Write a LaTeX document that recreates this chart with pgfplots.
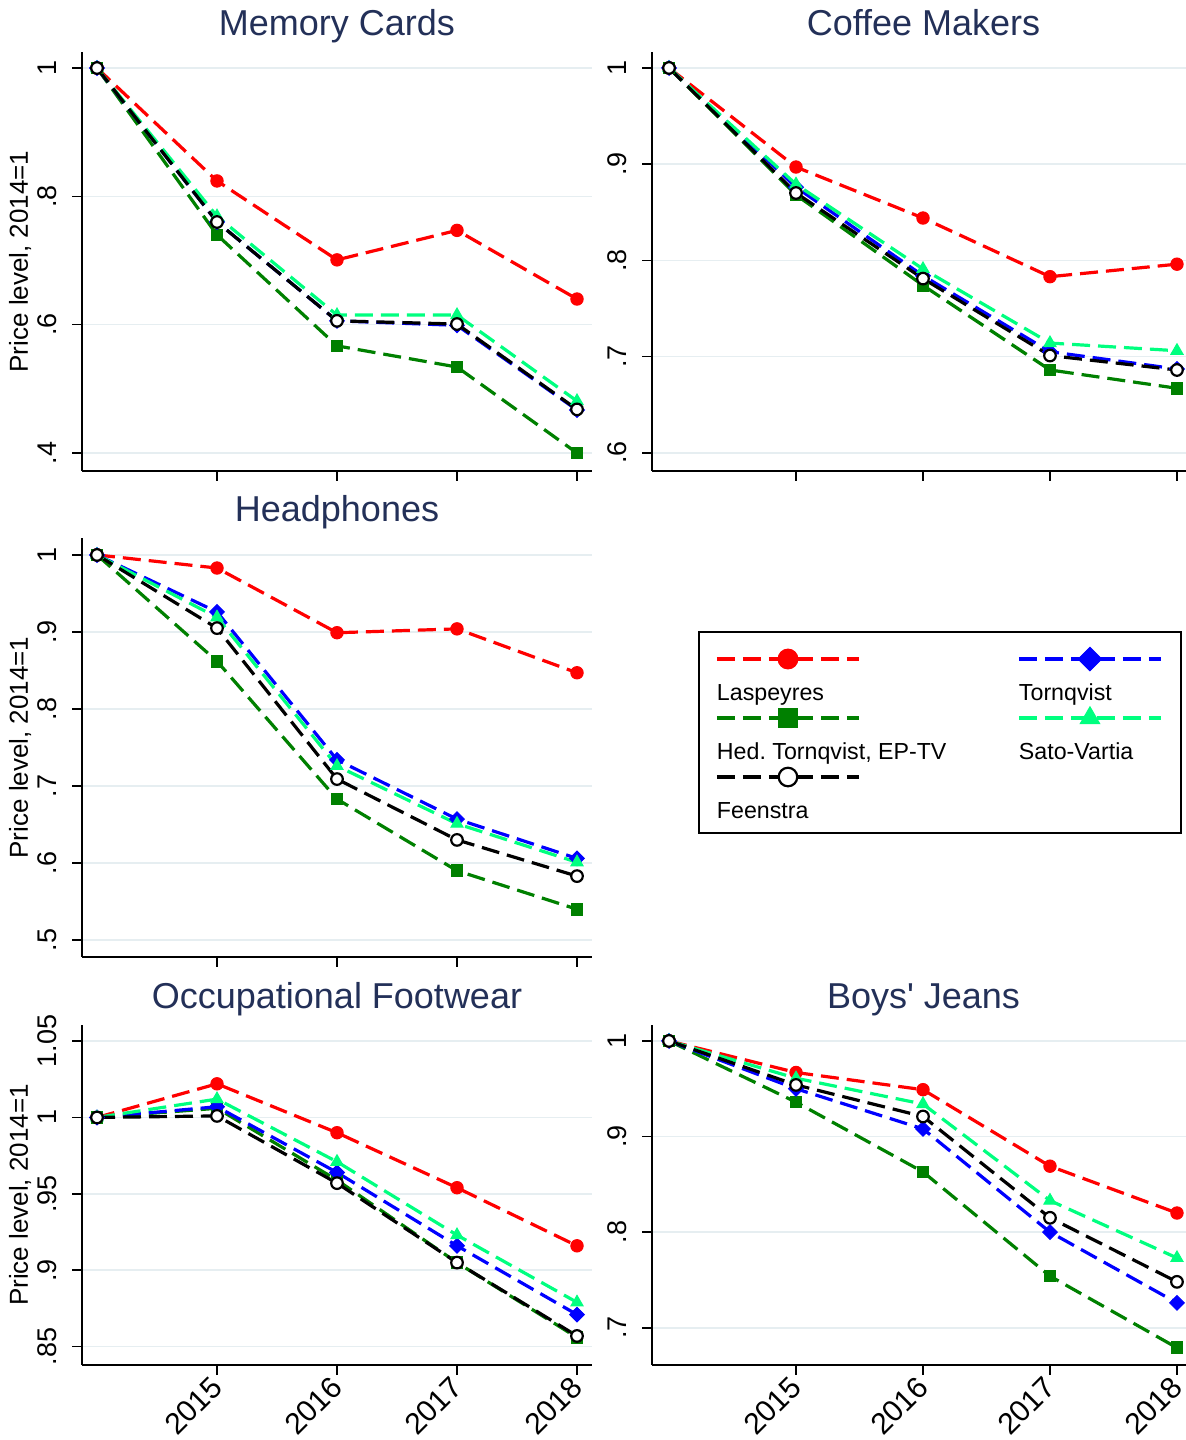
\documentclass[border=0pt]{standalone}
\usepackage{fontspec}
\setmainfont{Liberation Sans}[Ligatures=TeXOff]
\usepackage{pgfplots}
\usepackage{pgfplotstable}
\pgfplotsset{compat=1.18}
\frenchspacing

\definecolor{cLas}{RGB}{255,0,0}
\definecolor{cHed}{RGB}{0,128,0}
\definecolor{cTor}{RGB}{0,0,255}
\definecolor{cSat}{RGB}{0,255,127}
\definecolor{titlecol}{RGB}{35,48,88}
\definecolor{gridcol}{RGB}{230,238,241}

\pgfplotstableread{
year las hed tor sat fee
2014 1 1 1 1 1
2015 0.824 0.740 0.760 0.769 0.760
2016 0.701 0.567 0.606 0.615 0.606
2017 0.747 0.534 0.599 0.615 0.601
2018 0.640 0.400 0.467 0.481 0.468
}\mem
\pgfplotstableread{
year las hed tor sat fee
2014 1 1 1 1 1
2015 0.897 0.868 0.876 0.879 0.870
2016 0.844 0.774 0.784 0.791 0.781
2017 0.783 0.686 0.705 0.714 0.701
2018 0.796 0.667 0.687 0.706 0.686
}\cof
\pgfplotstableread{
year las hed tor sat fee
2014 1 1 1 1 1
2015 0.983 0.862 0.926 0.919 0.905
2016 0.899 0.683 0.734 0.726 0.709
2017 0.904 0.590 0.657 0.651 0.630
2018 0.847 0.540 0.606 0.601 0.583
}\hph
\pgfplotstableread{
year las hed tor sat fee
2014 1 1 1 1 1
2015 1.022 1.006 1.007 1.012 1.001
2016 0.990 0.959 0.964 0.971 0.957
2017 0.954 0.905 0.916 0.923 0.905
2018 0.916 0.856 0.871 0.879 0.857
}\occ
\pgfplotstableread{
year las hed tor sat fee
2014 1 1 1 1 1
2015 0.967 0.936 0.950 0.961 0.954
2016 0.949 0.863 0.908 0.934 0.921
2017 0.869 0.754 0.800 0.833 0.815
2018 0.820 0.679 0.726 0.773 0.748
}\boy

\tikzset{
  ser/.style={line width=1.6pt, dash pattern=on 9pt off 4pt},
  las/.style={ser, color=cLas, mark=*, mark size=3.1pt, mark options={solid, fill=cLas, draw=cLas, line width=0.5pt}},
  hed/.style={ser, color=cHed, mark=square*, mark size=2.9pt, mark options={solid, fill=cHed, draw=cHed, line width=0.5pt}},
  tor/.style={ser, color=cTor, mark=square*, mark size=2.6pt, mark options={solid, fill=cTor, draw=cTor, line width=0.5pt, rotate=45}},
  sat/.style={ser, color=cSat, mark=triangle*, mark size=3.5pt, mark options={solid, fill=cSat, draw=cSat, line width=0.5pt}},
  fee/.style={ser, color=black, mark=*, mark size=2.9pt, mark options={solid, fill=white, draw=black, line width=1.1pt}},
}

\newcommand{\plotall}[1]{%
  \addplot[las, forget plot] table[x=year,y=las]{#1};
  \addplot[hed, forget plot] table[x=year,y=hed]{#1};
  \addplot[tor, forget plot] table[x=year,y=tor]{#1};
  \addplot[sat, forget plot] table[x=year,y=sat]{#1};
  \addplot[fee, forget plot] table[x=year,y=fee]{#1};
}

\pgfplotsset{
  panel/.style={
    scale only axis,
    anchor=south west,
    axis x line*=bottom, axis y line*=left,
    xtick={2015,2016,2017,2018},
    tick align=outside,
    major tick length=5pt,
    ymajorgrids,
    grid style={gridcol, line width=0.8pt},
    axis line style={line width=0.8pt, black},
    tick style={line width=0.8pt, black},
    /pgf/number format/assume math mode=true,
    title style={at={(0.5,1)}, anchor=base, yshift=2pt, font=\fontsize{18}{20}\selectfont, text=titlecol},
    yticklabel style={rotate=90, anchor=south, inner sep=7.5pt, font=\fontsize{13.5}{15}\selectfont},
    xticklabel style={rotate=45, anchor=east, xshift=1pt, yshift=-2.5pt, font=\fontsize{15}{17}\selectfont},
    ylabel style={font=\fontsize{13}{15}\selectfont, at={(axis description cs:0,0.5)}, anchor=center, yshift=31pt},
  },
  leftcol/.style={width=255pt, xmin=2013.875, xmax=2018.125, ylabel={Price level, 2014=1}},
  rightcol/.style={width=271.5pt, xmin=2013.866, xmax=2018.142},
  toprow/.style={xticklabels={}},
  botrow/.style={xticklabels={2015,2016,2017,2018}},
}

\begin{document}
\begin{tikzpicture}
\useasboundingbox (0,0) rectangle (592.5pt,720pt);

% Memory Cards
\begin{axis}[panel, leftcol, toprow, at={(41pt,484.5pt)}, height=209.5pt,
  ymin=0.372, ymax=1.025, ytick={0.4,0.6,0.8,1}, yticklabels={.4,.6,.8,1},
  title={Memory Cards}]
\plotall{\mem}
\end{axis}

% Coffee Makers
\begin{axis}[panel, rightcol, toprow, at={(326pt,484.5pt)}, height=209.5pt,
  ymin=0.581, ymax=1.0166, ytick={0.6,0.7,0.8,0.9,1}, yticklabels={.6,.7,.8,.9,1},
  title={Coffee Makers}]
\plotall{\cof}
\end{axis}

% Headphones + legend
\begin{axis}[panel, leftcol, toprow, at={(41pt,241.5pt)}, height=209.5pt,
  ymin=0.478, ymax=1.022, ytick={0.5,0.6,0.7,0.8,0.9,1}, yticklabels={.5,.6,.7,.8,.9,1},
  title={Headphones},
  legend columns=2,
  legend cell align=left,
  legend style={at={(axis description cs:1.2078,0.778)}, anchor=north west,
    draw=black, line width=1pt, fill=white,
    inner xsep=9pt, inner ysep=0pt, row sep=-12pt, column sep=0pt,
    font=\fontsize{11.6}{13}\selectfont,
    nodes={inner sep=0pt, text height=8.5pt, text depth=2.5pt}},
  legend image code/.code={
    \draw[#1, overlay, mark repeat=2, mark phase=2, line width=2.2pt, every mark/.append style={scale=1.6}]
      plot coordinates {(0pt,17.5pt) (35.5pt,17.5pt) (71pt,17.5pt)};
    \path[draw=none, fill=none] (0pt,-10.5pt) rectangle (0pt,31pt);
  }]
\plotall{\hph}
\addlegendimage{las}
\addlegendentry{\makebox[151pt][l]{Laspeyres}}
\addlegendimage{tor}
\addlegendentry{\makebox[72pt][l]{Tornqvist}}
\addlegendimage{hed}
\addlegendentry{\makebox[151pt][l]{Hed. Tornqvist, EP-TV}}
\addlegendimage{sat}
\addlegendentry{\makebox[72pt][l]{Sato-Vartia}}
\addlegendimage{fee}
\addlegendentry{\makebox[151pt][l]{Feenstra}}
\end{axis}

% Occupational Footwear
\begin{axis}[panel, leftcol, botrow, at={(41pt,37.5pt)}, height=170pt,
  ymin=0.838, ymax=1.0605, ytick={0.85,0.9,0.95,1,1.05}, yticklabels={.85,.9,.95,1,1.05},
  title={Occupational Footwear}]
\plotall{\occ}
\end{axis}

% Boys' Jeans
\begin{axis}[panel, rightcol, botrow, at={(326pt,37.5pt)}, height=170pt,
  ymin=0.661, ymax=1.0167, ytick={0.7,0.8,0.9,1}, yticklabels={.7,.8,.9,1},
  title={Boys' Jeans}]
\plotall{\boy}
\end{axis}
\end{tikzpicture}
\end{document}
